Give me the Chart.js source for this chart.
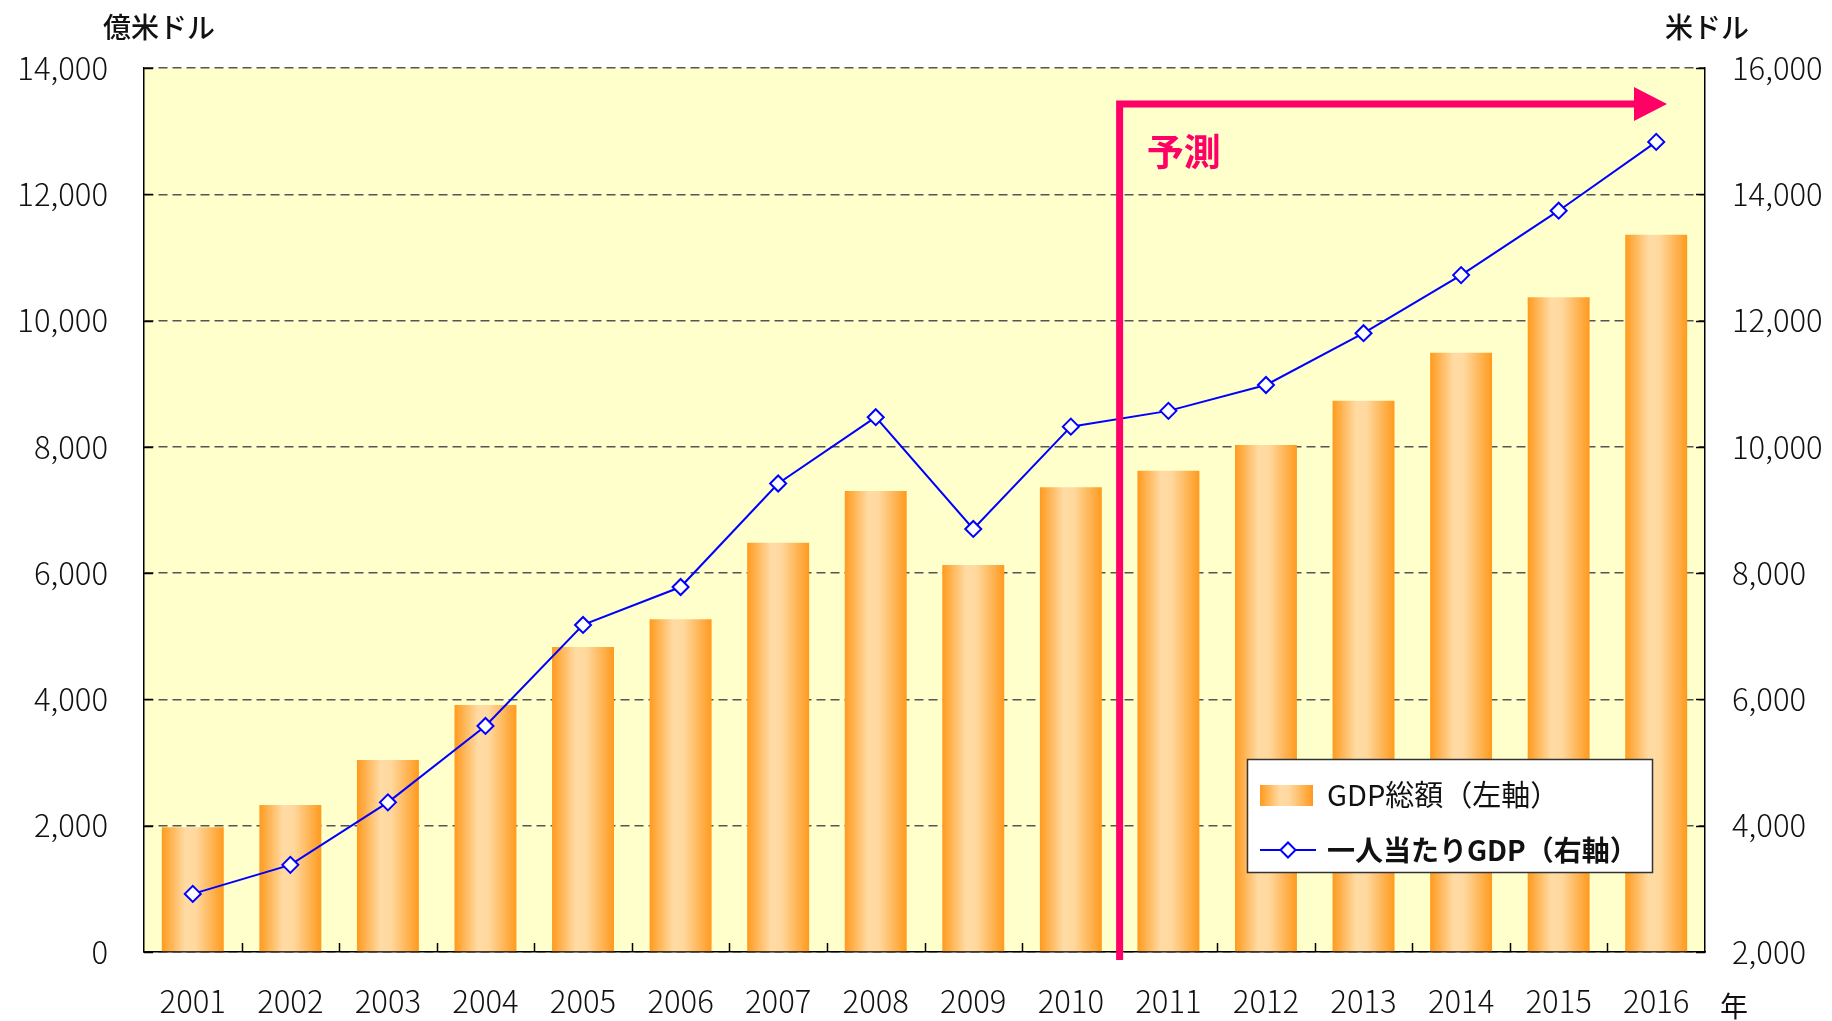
<!DOCTYPE html>
<html lang="ja">
<head>
<meta charset="utf-8">
<title>GDP総額と一人当たりGDP</title>
<script src="https://cdn.jsdelivr.net/npm/chart.js@4.4.1/dist/chart.umd.min.js"></script>
<style>
	html, body { margin: 0; padding: 0; background: #fff; }
	#wrap { width: 1832px; height: 1021px; }
</style>
</head>
<body>
<div id="wrap"><canvas id="gdpChart" width="1832" height="1021"></canvas></div>
<script>
// x axis categories
const years = ['2001', '2002', '2003', '2004', '2005', '2006', '2007', '2008',
	'2009', '2010', '2011', '2012', '2013', '2014', '2015', '2016'];

// GDP total, 100 million USD (left axis)
const gdpTotal = [1975, 2330, 3040, 3910, 4830, 5270, 6480, 7300,
	6130, 7360, 7620, 8030, 8730, 9490, 10370, 11360];

// GDP per capita, USD (right axis)
const gdpPerCapita = [2920, 3380, 4370, 5580, 7180, 7780, 9420, 10470,
	8700, 10320, 10570, 10980, 11800, 12720, 13740, 14830];

// axis ranges
const leftTicks = [0, 2000, 4000, 6000, 8000, 10000, 12000, 14000];
const rightTicks = [2000, 4000, 6000, 8000, 10000, 12000, 14000, 16000];

// first forecast year
const forecastFrom = '2011';

const JP = "'Noto Sans CJK JP', 'Liberation Sans', sans-serif";
const PINK = '#ff0066';
const BAR_PCT = 0.635;
const TICK_FONT = { family: JP, size: 31, weight: 300 };

// orange cylinder-like gradient for one bar
function barGradient(ctx, x0, x1) {
	const g = ctx.createLinearGradient(x0, 0, x1, 0);
	g.addColorStop(0, '#ff9a1e');
	g.addColorStop(0.38, '#ffdba4');
	g.addColorStop(0.55, '#ffd89e');
	g.addColorStop(1, '#ff9a1e');
	return g;
}

const fmt = v => Number(v).toLocaleString('en-US');

// plot background + inward tick marks
const plotDecor = {
	id: 'plotDecor',
	beforeDraw(chart) {
		const a = chart.chartArea, ctx = chart.ctx;
		ctx.save();
		ctx.fillStyle = '#ffffcc';
		ctx.fillRect(a.left, a.top, a.right - a.left, a.bottom - a.top);
		ctx.restore();
	},
	beforeDatasetsDraw(chart) {
		const a = chart.chartArea, ctx = chart.ctx;
		const y = chart.scales.y, y1 = chart.scales.y1, x = chart.scales.x;

		// bar gradients, from each bar's own position
		chart.getDatasetMeta(1).data.forEach(bar => {
			const w = bar.width;
			if (Number.isFinite(bar.x) && Number.isFinite(w)) {
				bar.options.backgroundColor = barGradient(ctx, bar.x - w / 2, bar.x + w / 2);
			}
		});

		ctx.save();
		ctx.strokeStyle = '#000';
		ctx.lineWidth = 1.5;
		ctx.beginPath();
		leftTicks.forEach(v => {
			const p = Math.round(y.getPixelForValue(v)) + 0.5;
			ctx.moveTo(a.left, p); ctx.lineTo(a.left + 9, p);
		});
		rightTicks.forEach(v => {
			const p = Math.round(y1.getPixelForValue(v)) + 0.5;
			ctx.moveTo(a.right - 9, p); ctx.lineTo(a.right, p);
		});
		for (let i = 1; i < years.length; i++) {
			const p = Math.round((x.getPixelForValue(i - 1) + x.getPixelForValue(i)) / 2) + 0.5;
			ctx.moveTo(p, a.bottom); ctx.lineTo(p, a.bottom - 9);
		}
		ctx.stroke();
		ctx.restore();
	}
};

// forecast arrow and label
const forecastArrow = {
	id: 'forecastArrow',
	afterDatasetsDraw(chart) {
		const a = chart.chartArea, ctx = chart.ctx, x = chart.scales.x;
		const i = years.indexOf(forecastFrom);
		const lx = (x.getPixelForValue(i - 1) + x.getPixelForValue(i)) / 2;
		const top = a.top + 36;
		const tip = a.right - 38;
		const base = tip - 33;
		ctx.save();
		ctx.strokeStyle = PINK;
		ctx.fillStyle = PINK;
		ctx.lineWidth = 7;
		ctx.lineJoin = 'miter';
		ctx.beginPath();
		ctx.moveTo(lx, a.bottom + 8);
		ctx.lineTo(lx, top);
		ctx.lineTo(base + 1, top);
		ctx.stroke();
		ctx.beginPath();
		ctx.moveTo(base, top - 17);
		ctx.lineTo(tip, top);
		ctx.lineTo(base, top + 17);
		ctx.closePath();
		ctx.fill();
		ctx.font = 'bold 37px ' + JP;
		ctx.textBaseline = 'middle';
		ctx.textAlign = 'left';
		ctx.fillText('予測', lx + 27, top + 48);
		ctx.restore();
	}
};

// legend box, axis units
const legendBox = {
	id: 'legendBox',
	afterDraw(chart) {
		const a = chart.chartArea, ctx = chart.ctx;
		const ds = chart.data.datasets;
		const bx = a.right - 458, by = a.bottom - 193, bw = 405, bh = 113;
		ctx.save();
		ctx.fillStyle = '#fff';
		ctx.fillRect(bx, by, bw, bh);
		ctx.strokeStyle = '#333';
		ctx.lineWidth = 1.5;
		ctx.strokeRect(bx + 0.5, by + 0.5, bw, bh);

		// bar entry
		ctx.fillStyle = barGradient(ctx, bx + 13, bx + 66);
		ctx.fillRect(bx + 13, by + 26, 53, 21);
		ctx.fillStyle = '#111';
		ctx.textBaseline = 'middle';
		ctx.font = '29px ' + JP;
		ctx.fillText(ds[1].label, bx + 80, by + 36);

		// line entry
		const ly = by + 91;
		ctx.strokeStyle = ds[0].borderColor;
		ctx.lineWidth = 2;
		ctx.beginPath();
		ctx.moveTo(bx + 13, ly); ctx.lineTo(bx + 69, ly);
		ctx.stroke();
		const cx = bx + 41, r = 7.5;
		ctx.beginPath();
		ctx.moveTo(cx - r, ly); ctx.lineTo(cx, ly - r);
		ctx.lineTo(cx + r, ly); ctx.lineTo(cx, ly + r);
		ctx.closePath();
		ctx.fillStyle = '#fff';
		ctx.fill();
		ctx.stroke();
		ctx.fillStyle = '#111';
		ctx.font = 'bold 28px ' + JP;
		ctx.fillText(ds[0].label, bx + 80, ly);

		// axis units
		ctx.font = '500 28px ' + JP;
		ctx.textAlign = 'left';
		ctx.fillText('億米ドル', 103, 27);
		ctx.textAlign = 'right';
		ctx.fillText('米ドル', 1749, 27);
		ctx.textAlign = 'center';
		ctx.font = '28px ' + JP;
		ctx.fillText('年', 1734, 1006);
		ctx.restore();
	}
};

const canvas = document.getElementById('gdpChart');
const gdpChart = new Chart(canvas, {
	data: {
		labels: years,
		datasets: [{
			type: 'line',
			label: '一人当たりGDP（右軸）',
			data: gdpPerCapita,
			yAxisID: 'y1',
			borderColor: '#0000ff',
			borderWidth: 2,
			tension: 0,
			pointStyle: 'rectRot',
			pointRadius: 8,
			pointHoverRadius: 8,
			pointBackgroundColor: '#fff',
			pointBorderColor: '#0000ff',
			pointBorderWidth: 2,
			order: 1
		}, {
			type: 'bar',
			label: 'GDP総額（左軸）',
			data: gdpTotal,
			yAxisID: 'y',
			barPercentage: BAR_PCT,
			categoryPercentage: 1,
			// placeholder, replaced per bar by a gradient before drawing
			backgroundColor: ctx => '#ffb860',
			borderWidth: 0,
			order: 2
		}]
	},
	options: {
		responsive: false,
		animation: false,
		devicePixelRatio: 1,
		layout: { padding: { top: 68, left: 0, right: 0, bottom: 0 } },
		plugins: {
			legend: { display: false },
			title: { display: false },
			tooltip: { enabled: false }
		},
		scales: {
			x: {
				offset: true,
				grid: { display: false, drawTicks: false },
				border: { display: true, color: '#000', width: 1.5 },
				ticks: {
					padding: 31,
					color: '#111',
					font: TICK_FONT,
					maxRotation: 0,
					autoSkip: false
				},
				afterFit: s => { s.height = 69; }
			},
			y: {
				position: 'left',
				min: leftTicks[0],
				max: leftTicks[leftTicks.length - 1],
				afterBuildTicks: s => { s.ticks = leftTicks.map(v => ({ value: v })); },
				grid: { color: '#555', lineWidth: 1.5, drawTicks: false },
				border: { display: true, color: '#000', width: 1.5, dash: [9, 5] },
				ticks: {
					padding: 36,
					color: '#111',
					font: TICK_FONT,
					callback: v => fmt(v)
				},
				afterFit: s => { s.width = 144; }
			},
			y1: {
				position: 'right',
				min: rightTicks[0],
				max: rightTicks[rightTicks.length - 1],
				afterBuildTicks: s => { s.ticks = rightTicks.map(v => ({ value: v })); },
				grid: { display: false, drawOnChartArea: false, drawTicks: false },
				border: { display: true, color: '#000', width: 1.5 },
				ticks: {
					padding: 27,
					color: '#111',
					font: TICK_FONT,
					callback: v => fmt(v)
				},
				afterFit: s => { s.width = 127; }
			}
		}
	},
	plugins: [plotDecor, forecastArrow, legendBox]
});
</script>
</body>
</html>
